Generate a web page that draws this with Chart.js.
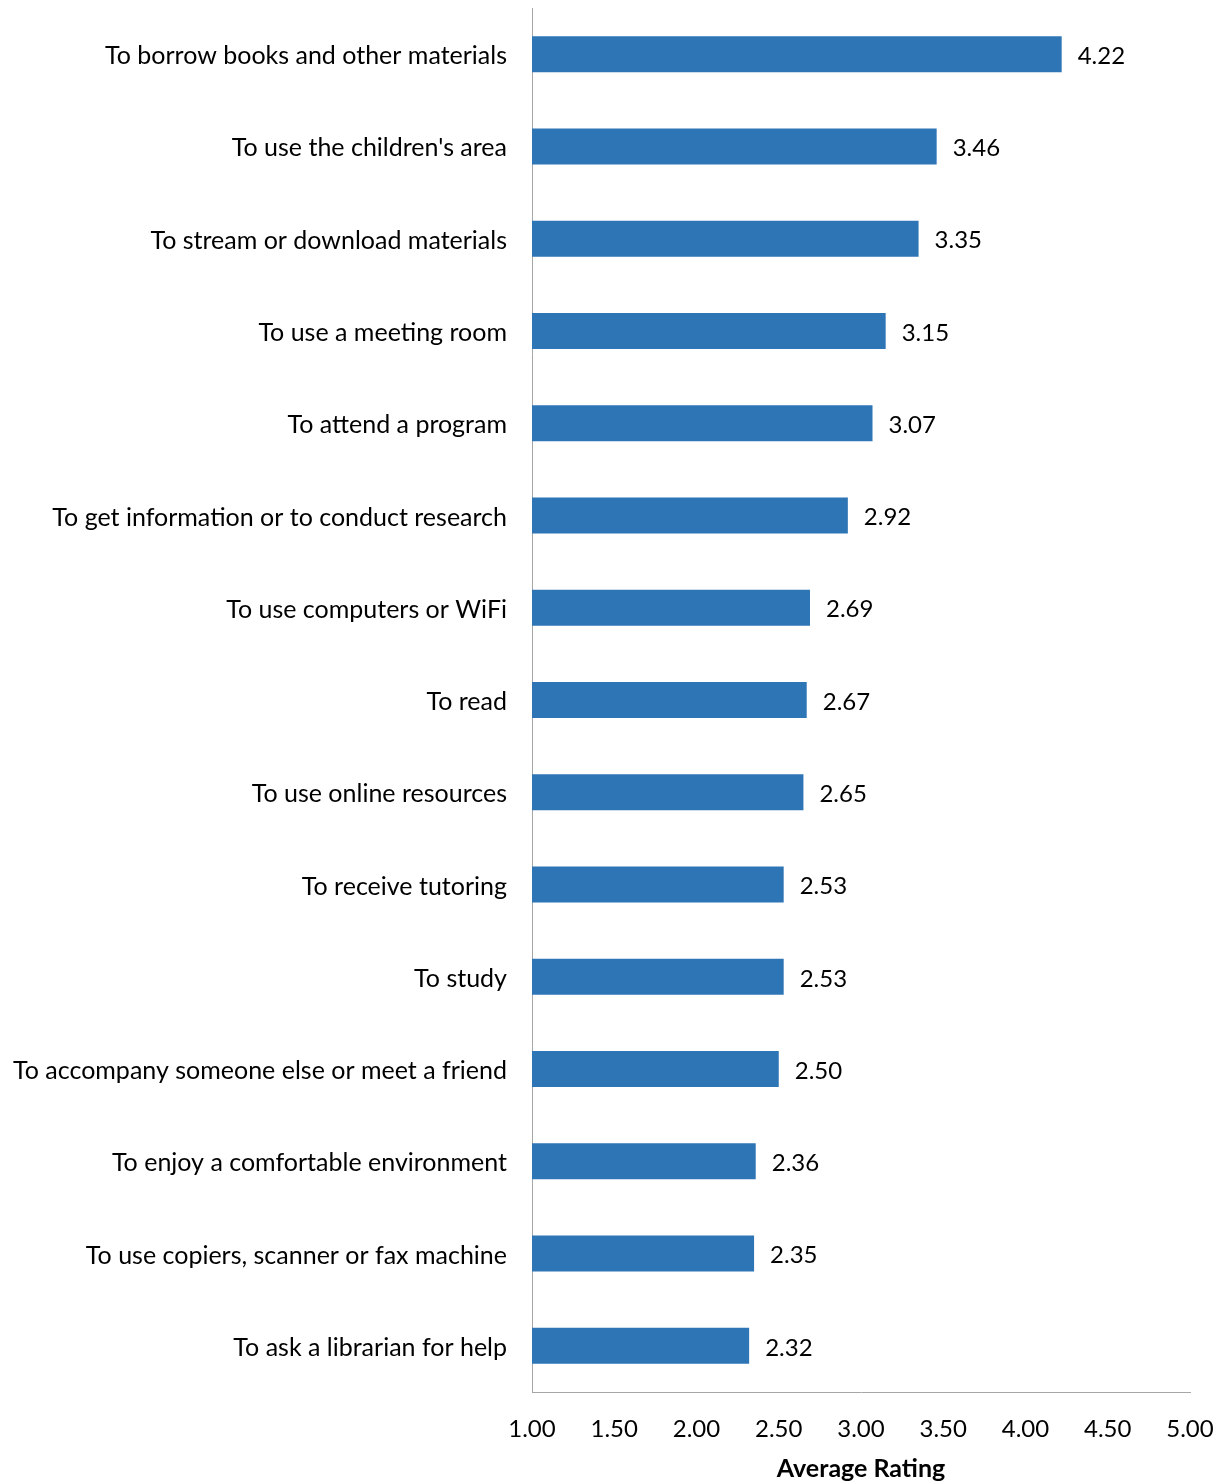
<!DOCTYPE html>
<html>
<head>
<meta charset="utf-8">
<script src="https://cdn.jsdelivr.net/npm/chart.js@4/dist/chart.umd.min.js"></script>
<style>
html,body{margin:0;padding:0;background:#fff;}
#wrap{width:1225px;height:1484px;position:relative;}
</style>
</head>
<body>
<div id="wrap"><canvas id="c" width="1225" height="1484"></canvas></div>
<script>
const categories = [
  "To borrow books and other materials",
  "To use the children's area",
  "To stream or download materials",
  "To use a meeting room",
  "To attend a program",
  "To get information or to conduct research",
  "To use computers or WiFi",
  "To read",
  "To use online resources",
  "To receive tutoring",
  "To study",
  "To accompany someone else or meet a friend",
  "To enjoy a comfortable environment",
  "To use copiers, scanner or fax machine",
  "To ask a librarian for help"
];
const ratings = [4.22, 3.46, 3.35, 3.15, 3.07, 2.92, 2.69, 2.67, 2.65, 2.53, 2.53, 2.50, 2.36, 2.35, 2.32];
const xTicks = [1.0, 1.5, 2.0, 2.5, 3.0, 3.5, 4.0, 4.5, 5.0];
const axisTitle = "Average Rating";

const FONT = "Lato, 'Open Sans', sans-serif";

const valueLabels = {
  id: 'valueLabels',
  afterDatasetsDraw(chart) {
    const ctx = chart.ctx;
    const meta = chart.getDatasetMeta(0);
    ctx.save();
    ctx.font = "24px " + FONT;
    ctx.fillStyle = "#000";
    ctx.textAlign = "left";
    ctx.textBaseline = "middle";
    meta.data.forEach((bar, i) => {
      ctx.fillText(ratings[i].toFixed(2), bar.x + 16, bar.y + 2);
    });
    ctx.restore();
  }
};

new Chart(document.getElementById('c'), {
  type: 'bar',
  data: {
    labels: categories,
    datasets: [{
      data: ratings,
      backgroundColor: '#2e75b6',
      borderWidth: 0,
      barPercentage: 0.39,
      categoryPercentage: 1.0
    }]
  },
  plugins: [valueLabels],
  options: {
    indexAxis: 'y',
    responsive: false,
    animation: false,
    devicePixelRatio: 1,
    layout: { padding: { left: 0, right: 35, top: 8, bottom: 0 } },
    plugins: { legend: { display: false }, tooltip: { enabled: false } },
    scales: {
      x: {
        type: 'linear',
        min: 1, max: 5,
        afterBuildTicks(scale) { scale.ticks = xTicks.map(v => ({ value: v })); },
        grid: { display: false, drawTicks: false },
        border: { display: true, color: '#a6a6a6', width: 1 },
        ticks: {
          color: '#000',
          font: { family: FONT, size: 24 },
          padding: 23,
          maxRotation: 0,
          callback: v => Number(v).toFixed(2)
        },
        title: {
          display: true,
          text: axisTitle,
          color: '#000',
          font: { family: FONT, size: 25, weight: 'bold' },
          padding: { top: 6, bottom: 0 }
        },
        afterFit(scale) {
          scale.height = 92;
          scale.paddingLeft = 0; scale.paddingRight = 0;
        }
      },
      y: {
        grid: { display: false, drawTicks: false },
        border: { display: true, color: '#a6a6a6', width: 1 },
        ticks: {
          color: '#000',
          font: { family: FONT, size: 25 },
          padding: 25,
          labelOffset: 2,
          autoSkip: false
        },
        afterFit(scale) {
          scale.width = 532;
          scale.paddingTop = 0; scale.paddingBottom = 0;
        }
      }
    }
  }
});
</script>
</body>
</html>
